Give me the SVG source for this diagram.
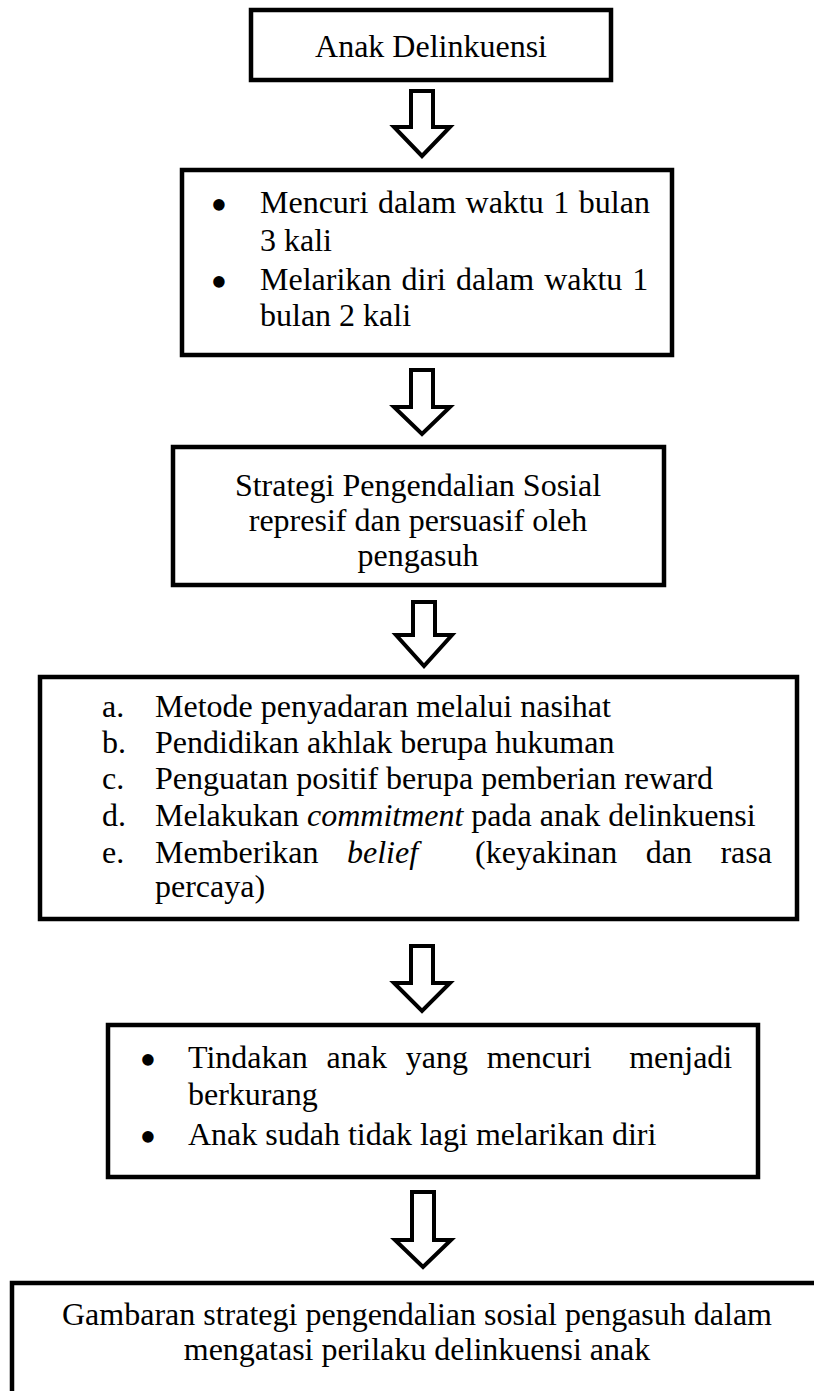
<svg xmlns="http://www.w3.org/2000/svg" width="814" height="1391" viewBox="0 0 814 1391">
<style>
.box{fill:#fff;stroke:#000;stroke-width:4.5}
.arr{fill:#fff;stroke:#000;stroke-width:4;stroke-linejoin:miter}
text{font-family:"Liberation Serif","Times New Roman",serif;font-size:32px;fill:#000}
.c{text-anchor:middle}
.bul{font-size:48px;text-anchor:middle}
.i{font-style:italic}
</style>
<rect width="814" height="1391" fill="#fff"/>
<g id="connectors">
<polygon class="arr" points="411,91 433,91 433,127 450,127 422,156 394,127 411,127"/>
<polygon class="arr" points="411,370 433,370 433,407 450,407 422,434 394,407 411,407"/>
<polygon class="arr" points="413,602 435,602 435,635 452,635 424,666 396,635 413,635"/>
<polygon class="arr" points="411,946 433,946 433,983 450,983 422,1011 394,983 411,983"/>
<polygon class="arr" points="412,1192 434,1192 434,1240 451,1240 423,1267 395,1240 412,1240"/>
</g>
<g id="n1">
<rect class="box" x="251" y="10" width="360" height="70"/>
<text class="c" x="431" y="57">Anak Delinkuensi</text>
</g>
<g id="n2">
<rect class="box" x="182" y="170" width="490" height="185"/>
<text class="bul" x="219" y="221">•</text>
<text x="260" y="213" word-spacing="1.5">Mencuri dalam waktu 1 bulan</text>
<text x="260" y="251">3 kali</text>
<text class="bul" x="219" y="298">•</text>
<text x="260" y="290" word-spacing="2">Melarikan diri dalam waktu 1</text>
<text x="260" y="326">bulan 2 kali</text>
</g>
<g id="n3">
<rect class="box" x="173" y="447" width="491" height="138"/>
<text class="c" x="418" y="496">Strategi Pengendalian Sosial</text>
<text class="c" x="418" y="531">represif dan persuasif oleh</text>
<text class="c" x="418" y="566">pengasuh</text>
</g>
<g id="n4">
<rect class="box" x="40" y="677" width="757" height="242"/>
<text x="102" y="717">a.</text><text x="155" y="717">Metode penyadaran melalui nasihat</text>
<text x="102" y="753">b.</text><text x="155" y="753">Pendidikan akhlak berupa hukuman</text>
<text x="102" y="789">c.</text><text x="155" y="789">Penguatan positif berupa pemberian reward</text>
<text x="102" y="826">d.</text><text x="155" y="826">Melakukan <tspan class="i">commitment</tspan> pada anak delinkuensi</text>
<text x="102" y="863">e.</text><text x="155" y="863" xml:space="preserve" word-spacing="20.5">Memberikan <tspan class="i">belief</tspan>  (keyakinan dan rasa</text>
<text x="155" y="897">percaya)</text>
</g>
<g id="n5">
<rect class="box" x="108" y="1025" width="650" height="152"/>
<text class="bul" x="148" y="1076">•</text>
<text x="188" y="1068" xml:space="preserve" word-spacing="10.8">Tindakan anak yang mencuri  menjadi</text>
<text x="188" y="1105">berkurang</text>
<text class="bul" x="148" y="1153">•</text>
<text x="188" y="1145">Anak sudah tidak lagi melarikan diri</text>
</g>
<g id="n6">
<rect class="box" x="12" y="1283" width="830" height="130"/>
<text class="c" x="417" y="1325">Gambaran strategi pengendalian sosial pengasuh dalam</text>
<text class="c" x="417" y="1360">mengatasi perilaku delinkuensi anak</text>
</g>
</svg>
